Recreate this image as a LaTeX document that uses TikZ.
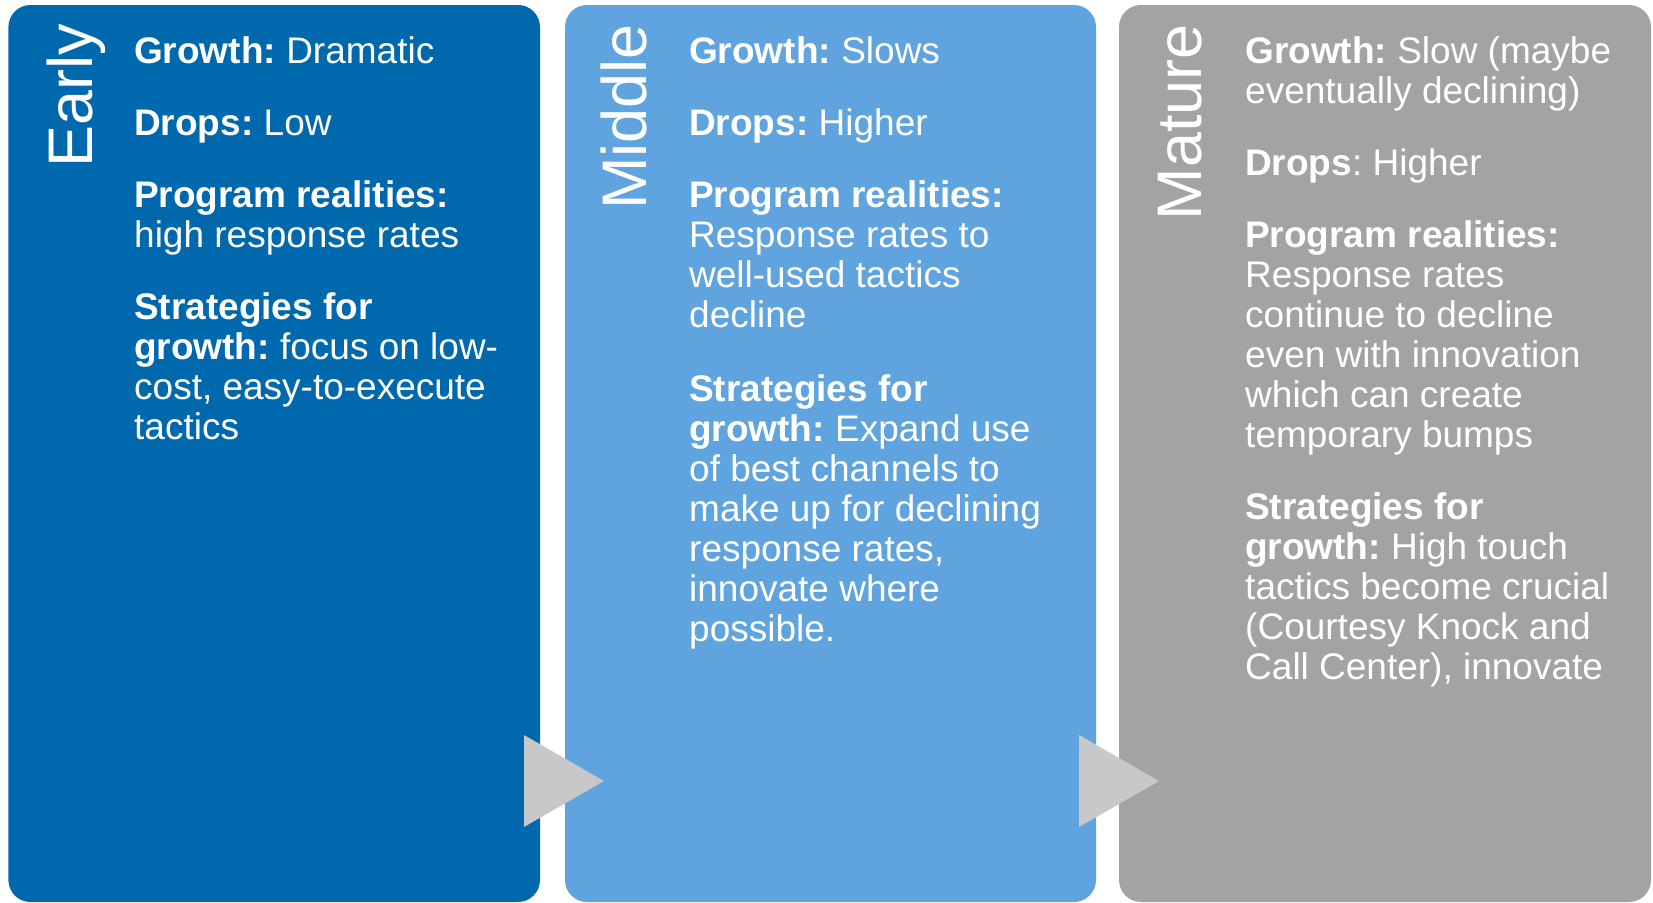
\documentclass[tikz,border=0pt]{standalone}
\usepackage{fontspec}
\setmainfont{Liberation Sans}
\frenchspacing
\definecolor{earlyblue}{RGB}{0,104,172}
\definecolor{middleblue}{RGB}{95,164,222}
\definecolor{maturegray}{RGB}{163,163,163}
\definecolor{arrowgray}{RGB}{200,200,200}

\begin{document}
\begin{tikzpicture}[x=1pt,y=-1pt]
\tikzstyle{every node}+=[inner sep=0pt]
\tikzstyle{stage}=[text=white,font=\fontsize{63}{70}\selectfont,rotate=90,anchor=base east]
\tikzstyle{item}=[text=white,font=\fontsize{37}{40}\selectfont,align=left,anchor=base west]
\useasboundingbox (0,0) rectangle (1653,902);
% panels
\fill [earlyblue,rounded corners=22] (8.4,5) rectangle (540,902);
\fill [middleblue,rounded corners=22] (565,5) rectangle (1096,902);
\fill [maturegray,rounded corners=22] (1119,5) rectangle (1651,902);
% stage arrows
\fill [arrowgray] (524,735) -- (604,781) -- (524,827) -- cycle;
\fill [arrowgray] (1079,735) -- (1159,781) -- (1079,827) -- cycle;
% early (base = last line)
\node [stage] (early) at (92,24) {Early};
\node [item] (eGrowth) at (134,63) {\textbf{Growth:} Dramatic};
\node [item] (eDrops) at (134,135) {\textbf{Drops:} Low};
\node [item] (eReal) at (134,247) {\textbf{Program realities:}\\high response rates};
\node [item] (eStrat) at (134,439) {\textbf{Strategies for}\\\textbf{growth:} focus on low-\\cost, easy-to-execute\\tactics};
% middle
\node [stage] (middle) at (646,24) {Middle};
\node [item] (mGrowth) at (689,63) {\textbf{Growth:} Slows};
\node [item] (mDrops) at (689,135) {\textbf{Drops:} Higher};
\node [item] (mReal) at (689,327) {\textbf{Program realities:}\\Response rates to\\well-used tactics\\decline};
\node [item] (mStrat) at (689,641) {\textbf{Strategies for}\\\textbf{growth:} Expand use\\of best channels to\\make up for declining\\response rates,\\innovate where\\possible.};
% mature
\node [stage] (mature) at (1201,24) {Mature};
\node [item] (aGrowth) at (1245,103) {\textbf{Growth:} Slow (maybe\\eventually declining)};
\node [item] (aDrops) at (1245,175) {\textbf{Drops}: Higher};
\node [item] (aReal) at (1245,447) {\textbf{Program realities:}\\Response rates\\continue to decline\\even with innovation\\which can create\\temporary bumps};
\node [item] (aStrat) at (1245,679) {\textbf{Strategies for}\\\textbf{growth:} High touch\\tactics become crucial\\(Courtesy Knock and\\Call Center), innovate};
\end{tikzpicture}
\end{document}
